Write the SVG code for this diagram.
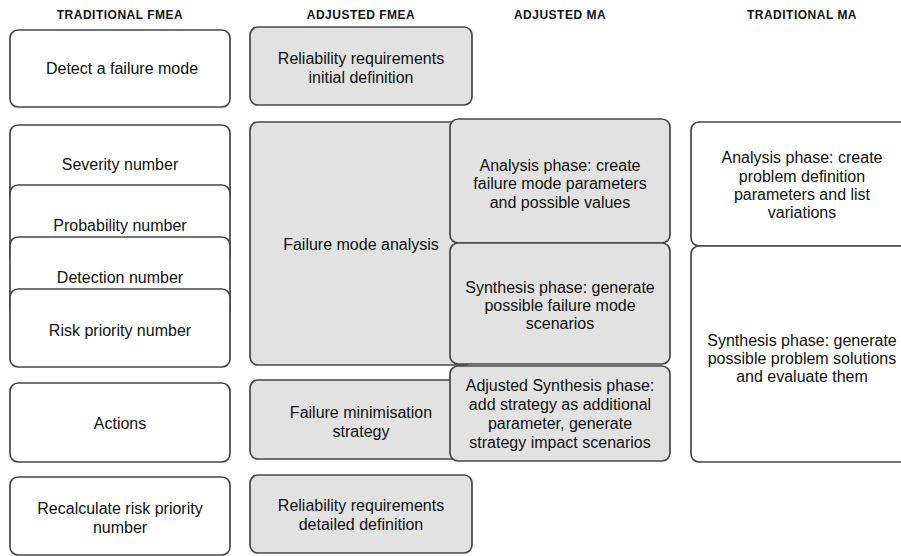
<svg xmlns="http://www.w3.org/2000/svg" width="901" height="556" viewBox="0 0 901 556">
<style>
.b{stroke:#474747;stroke-width:1.7;fill:#fff}
.g{fill:#e2e2e2}
text{font-family:"Liberation Sans",Arial,sans-serif;font-size:16px;fill:#111;text-anchor:middle}
.h{font-size:12px;font-weight:bold;letter-spacing:0.5px}
</style>
<g id="headers">
<text class="h" x="120" y="19">TRADITIONAL FMEA</text>
<text class="h" x="361" y="19">ADJUSTED FMEA</text>
<text class="h" x="560" y="19">ADJUSTED MA</text>
<text class="h" x="802" y="19">TRADITIONAL MA</text>
</g>
<g id="detect"><rect class="b" x="10" y="30" width="220" height="77" rx="8"/><text x="122" y="74">Detect a failure mode</text></g>
<g id="rel-init"><rect class="b g" x="250" y="27" width="222" height="78" rx="8"/><text x="361" y="64">Reliability requirements</text><text x="361" y="83">initial definition</text></g>
<g id="severity"><rect class="b" x="10" y="125" width="220" height="80" rx="8"/><text x="120" y="170">Severity number</text></g>
<g id="probability"><rect class="b" x="10" y="185" width="220" height="80" rx="8"/><text x="120" y="231">Probability number</text></g>
<g id="detection"><rect class="b" x="10" y="237" width="220" height="80" rx="8"/><text x="120" y="283">Detection number</text></g>
<g id="rpn"><rect class="b" x="10" y="289" width="220" height="78" rx="8"/><text x="120" y="336">Risk priority number</text></g>
<g id="fma"><rect class="b g" x="250" y="122" width="222" height="243" rx="8"/><text x="361" y="250">Failure mode analysis</text></g>
<g id="actions"><rect class="b" x="10" y="383" width="220" height="79" rx="8"/><text x="120" y="429">Actions</text></g>
<g id="strategy"><rect class="b g" x="250" y="380" width="222" height="79" rx="8"/><text x="361" y="418">Failure minimisation</text><text x="361" y="437">strategy</text></g>
<g id="recalc"><rect class="b" x="10" y="477" width="220" height="78" rx="8"/><text x="120" y="514">Recalculate risk priority</text><text x="120" y="533">number</text></g>
<g id="rel-det"><rect class="b g" x="250" y="475" width="222" height="78" rx="8"/><text x="361" y="511">Reliability requirements</text><text x="361" y="530">detailed definition</text></g>
<g id="ama-analysis"><rect class="b g" x="450" y="119" width="220" height="124" rx="8"/><text x="560" y="171">Analysis phase: create</text><text x="560" y="189">failure mode parameters</text><text x="560" y="208">and possible values</text></g>
<g id="ama-synthesis"><rect class="b g" x="450" y="243" width="220" height="121" rx="8"/><text x="560" y="293">Synthesis phase: generate</text><text x="560" y="311">possible failure mode</text><text x="560" y="329">scenarios</text></g>
<g id="ama-adjusted"><rect class="b g" x="450" y="366" width="220" height="95" rx="8"/><text x="560" y="391">Adjusted Synthesis phase:</text><text x="560" y="410">add strategy as additional</text><text x="560" y="429">parameter, generate</text><text x="560" y="448">strategy impact scenarios</text></g>
<g id="tma-analysis"><rect class="b" x="691" y="122" width="222" height="124" rx="8"/><text x="802" y="163">Analysis phase: create</text><text x="802" y="182">problem definition</text><text x="802" y="200">parameters and list</text><text x="802" y="218">variations</text></g>
<g id="tma-synthesis"><rect class="b" x="691" y="246" width="222" height="216" rx="8"/><text x="802" y="346">Synthesis phase: generate</text><text x="802" y="364">possible problem solutions</text><text x="802" y="382">and evaluate them</text></g>
<g id="connectors"></g>
</svg>
